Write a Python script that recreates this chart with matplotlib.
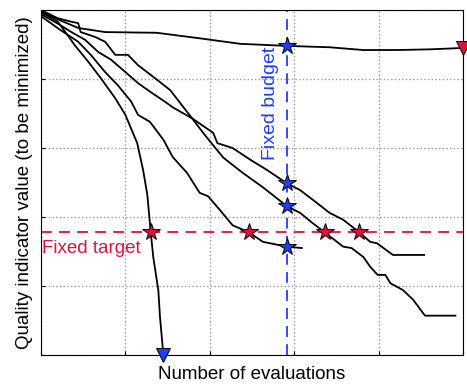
import matplotlib.pyplot as plt

plt.rcParams['font.family'] = ['Liberation Sans', 'DejaVu Sans']

# curvas de convergencia (leidas a ojo de la figura)
a_x = [0, 0.17, 0.44, 0.76, 1.37, 1.88, 2.36, 2.91, 3.42, 3.82, 4.22, 4.61, 5.0]
a_y = [4.97, 4.88, 4.74, 4.68, 4.67, 4.59, 4.51, 4.48, 4.46, 4.42, 4.42, 4.43, 4.45]

b_x = [0, 0.20, 0.40, 0.56, 0.71, 0.88, 1.00, 1.14, 1.21, 1.26, 1.30, 1.33, 1.39, 1.41, 1.45]
b_y = [4.97, 4.83, 4.49, 4.25, 4.01, 3.72, 3.48, 3.07, 2.68, 2.32, 1.78, 1.42, 0.94, 0.55, 0.0]

c_x = [0, 0.23, 0.44, 0.59, 0.76, 0.91, 1.07, 1.15, 1.29, 1.45, 1.56, 1.73, 1.88, 1.98,
       2.10, 2.27, 2.46, 2.63, 2.91, 3.09]
c_y = [4.91, 4.71, 4.54, 4.35, 4.10, 3.91, 3.67, 3.48, 3.38, 3.12, 2.87, 2.64, 2.35, 2.30,
       2.13, 1.88, 1.78, 1.64, 1.57, 1.55]

d_x = [0, 0.20, 0.36, 0.44, 0.47, 0.64, 0.76, 0.88, 1.03, 1.15, 1.30, 1.53, 1.79, 1.94,
       2.16, 2.39, 2.63, 2.91, 3.07, 3.22, 3.36, 3.58, 3.68, 3.82, 3.90, 3.99, 4.08, 4.14,
       4.29, 4.41, 4.55, 4.91]
d_y = [5.0, 4.88, 4.83, 4.81, 4.68, 4.61, 4.54, 4.35, 4.35, 4.20, 4.06, 3.84, 3.43, 3.19,
       2.86, 2.64, 2.43, 2.16, 2.06, 1.91, 1.78, 1.57, 1.55, 1.42, 1.28, 1.16, 1.16, 1.04,
       0.94, 0.80, 0.57, 0.57]

e_x = [0, 0.23, 0.36, 0.52, 0.68, 0.83, 1.00, 1.15, 1.30, 1.47, 1.56, 1.79, 2.04, 2.09,
       2.27, 2.48, 2.68, 2.91, 3.07, 3.22, 3.42, 3.58, 3.77, 3.90, 3.98, 4.17, 4.54]
e_y = [4.94, 4.78, 4.68, 4.57, 4.39, 4.28, 4.10, 3.94, 3.81, 3.67, 3.59, 3.43, 3.22, 3.07,
       3.00, 2.83, 2.68, 2.49, 2.39, 2.25, 2.06, 1.96, 1.78, 1.64, 1.62, 1.45, 1.45]

budget = 2.91
target = 1.78
budget_y = [4.48, 2.49, 2.16, 1.57]
target_x = [1.30, 2.46, 3.36, 3.77]

azul = '#1f3dff'
rojo = '#dc143c'

fig = plt.figure(figsize=(4.67, 3.91), dpi=100)
ax = fig.add_axes([0.0878, 0.0921, 0.9036, 0.8823])

for xs, ys in [(a_x, a_y), (b_x, b_y), (c_x, c_y), (d_x, d_y), (e_x, e_y)]:
    ax.plot(xs, ys, color='black', lw=1.3, zorder=3)

ax.axvline(budget, color=azul, ls=(0, (6, 4)), lw=1.3, zorder=2)
ax.axhline(target, color=rojo, ls=(0, (6, 4)), lw=1.3, zorder=2)

ax.plot([budget] * len(budget_y), budget_y, ls='none', marker='*', ms=13,
        mfc=azul, mec='black', mew=0.7, zorder=5)
ax.plot(target_x, [target] * len(target_x), ls='none', marker='*', ms=13,
        mfc=rojo, mec='black', mew=0.7, zorder=5)

ax.plot(a_x[-1], a_y[-1], marker='v', ms=10, mfc=rojo, mec='black', mew=0.7,
        clip_on=False, zorder=6)
ax.plot(b_x[-1], b_y[-1], marker='v', ms=10, mfc=azul, mec='black', mew=0.7,
        clip_on=False, zorder=6)

ax.text(2.72, 3.65, 'Fixed budget', color=azul, fontsize=14, rotation=90,
        ha='center', va='center')
ax.text(0.60, 1.55, 'Fixed target', color=rojo, fontsize=13.5,
        ha='center', va='center')

ax.set_xlim(0, 5)
ax.set_ylim(0, 5)
ax.set_xticks([0, 1, 2, 3, 4, 5])
ax.set_yticks([0, 1, 2, 3, 4, 5])
ax.tick_params(direction='in', length=3, labelbottom=False, labelleft=False)
ax.grid(True, color='#999999', ls=':', lw=1)
ax.set_xlabel('Number of evaluations', fontsize=13.5, labelpad=8)
ax.set_ylabel('Quality indicator value (to be minimized)', fontsize=13.5, labelpad=6)

fig.savefig('out.png', dpi=100)
